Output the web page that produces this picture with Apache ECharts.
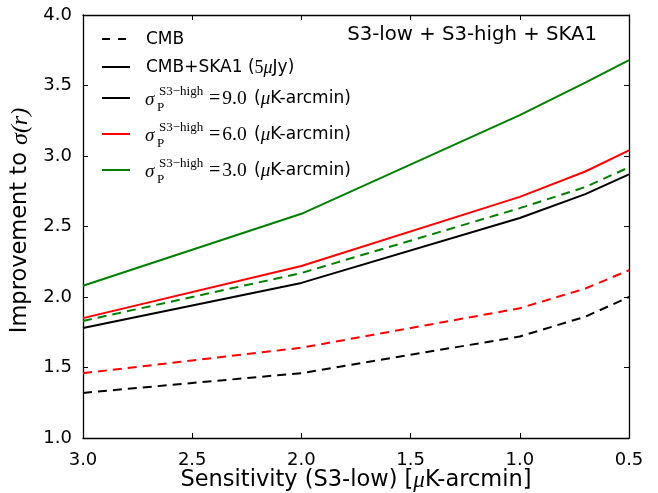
<!DOCTYPE html>
<html>
<head>
<meta charset="utf-8">
<title>Improvement to sigma(r)</title>
<script type="text/javascript" src="https://cdn.jsdelivr.net/npm/echarts@6/dist/echarts.min.js"></script>
<style>
html, body { margin: 0; padding: 0; background: #fff; }
#chart { width: 658px; height: 493px; }
</style>
</head>
<body>
<div id="chart"></div>
<script type="text/javascript">
    // S3-low sensitivity [uK-arcmin]
    var sens = [3.0, 2.0, 1.0, 0.7, 0.5];
    var yTicks = ['1.0', '1.5', '2.0', '2.5', '3.0', '3.5', '4.0'];

    // CMB only (dashed)
    var cmb9 = [1.32, 1.46, 1.72, 1.86, 2.00];
    var cmb6 = [1.46, 1.64, 1.92, 2.06, 2.19];
    var cmb3 = [1.83, 2.17, 2.63, 2.78, 2.92];
    // CMB + SKA1 (solid)
    var ska9 = [1.78, 2.10, 2.56, 2.73, 2.87];
    var ska6 = [1.85, 2.22, 2.71, 2.89, 3.04];
    var ska3 = [2.08, 2.59, 3.29, 3.52, 3.68];

    var sigmaHigh = ['9.0', '6.0', '3.0'];
    var colors = ['#000000', '#ff0000', '#008000'];

    function pairs(vals) {
        return sens.map(function (x, i) { return [x, vals[i]]; });
    }

    function mkLine(name, vals, color, dashed) {
        return {
            name: name,
            type: 'line',
            data: pairs(vals),
            showSymbol: false,
            symbol: 'none',
            silent: true,
            lineStyle: { color: color, width: 2, type: dashed ? [9, 6] : 'solid' },
            z: dashed ? 3 : 4
        };
    }

    var series = [
        mkLine('CMB 9.0', cmb9, colors[0], true),
        mkLine('CMB 6.0', cmb6, colors[1], true),
        mkLine('CMB 3.0', cmb3, colors[2], true),
        mkLine('CMB+SKA1 9.0', ska9, colors[0], false),
        mkLine('CMB+SKA1 6.0', ska6, colors[1], false),
        mkLine('CMB+SKA1 3.0', ska3, colors[2], false)
    ];

    // hand made legend (stacked sub/superscripts are not possible in the legend component)
    var serif = 'Liberation Serif';
    var sans = 'DejaVu Sans';
    var gfx = [];
    gfx.push({ type: 'line', shape: { x1: 102, y1: 39, x2: 130, y2: 39 },
        style: { stroke: '#000', lineWidth: 2, lineDash: [8, 8] } });
    gfx.push({ type: 'text', x: 146, y: 40,
        style: { text: 'CMB', font: '17px "DejaVu Sans"', fill: '#000', textVerticalAlign: 'middle' } });
    gfx.push({ type: 'line', shape: { x1: 102, y1: 67, x2: 130, y2: 67 },
        style: { stroke: '#000', lineWidth: 2 } });
    gfx.push({ type: 'text', x: 146, y: 68,
        style: {
            text: 'CMB+SKA1 ({n|5}{m|μ}Jy)', font: '17px "DejaVu Sans"', fill: '#000', textVerticalAlign: 'middle',
            rich: {
                n: { fontFamily: serif, fontSize: 18, fill: '#000' },
                m: { fontFamily: serif, fontStyle: 'italic', fontSize: 18, fill: '#000' }
            }
        } });
    var rowY = [98, 134, 170];
    sigmaHigh.forEach(function (s, i) {
        var y = rowY[i];
        gfx.push({ type: 'line', shape: { x1: 102, y1: y, x2: 130, y2: y },
            style: { stroke: colors[i], lineWidth: 2 } });
        gfx.push({ type: 'text', x: 145, y: y + 2,
            style: { text: 'σ', font: 'italic 19px "Liberation Serif"', fill: '#000', textVerticalAlign: 'middle' } });
        gfx.push({ type: 'text', x: 159, y: y - 6,
            style: { text: 'S3−high', font: '13px "Liberation Serif"', fill: '#000', textVerticalAlign: 'middle' } });
        gfx.push({ type: 'text', x: 157, y: y + 10,
            style: { text: 'P', font: '13px "Liberation Serif"', fill: '#000', textVerticalAlign: 'middle' } });
        gfx.push({ type: 'text', x: 209, y: y + 1,
            style: {
                text: '{q|=}{e|' + s + '} ({m|μ}K-arcmin)', font: '17px "DejaVu Sans"', fill: '#000', textVerticalAlign: 'middle',
                rich: {
                    q: { fontFamily: serif, fontSize: 20, fill: '#000', padding: [0, 2, 0, 0] },
                    e: { fontFamily: serif, fontSize: 19.5, fill: '#000', padding: [0, 2, 0, 0] },
                    m: { fontFamily: serif, fontStyle: 'italic', fontSize: 19, fill: '#000' }
                }
            } });
    });

    function xAx(pos, show) {
        return {
            type: 'value', position: pos, min: 0.5, max: 3.0, interval: 0.5, inverse: true,
            name: show ? 'Sensitivity (S3-low) [{m|μ}K-arcmin]' : '',
            nameLocation: 'middle', nameGap: 31, nameMoveOverlap: false,
            nameTextStyle: {
                fontFamily: sans, fontSize: 22.5, color: '#000',
                rich: { m: { fontFamily: serif, fontStyle: 'italic', fontSize: 23, color: '#000' } }
            },
            axisLine: { show: true, onZero: false, lineStyle: { color: '#000', width: 1.3 } },
            axisTick: { show: true, inside: true, length: 5, lineStyle: { color: '#000' } },
            axisLabel: { show: show, margin: 13, fontFamily: sans, fontSize: 18, color: '#000',
                formatter: function (v) { return v.toFixed(1); } },
            splitLine: { show: false }
        };
    }

    function yAx(pos, show) {
        return {
            type: 'value', position: pos, min: 1.0, max: 4.0, interval: 0.5,
            name: show ? 'Improvement to {i|σ(r)}' : '',
            nameLocation: 'middle', nameGap: 50,
            nameTextStyle: {
                fontFamily: sans, fontSize: 22.5, color: '#000', padding: [0, 0, 0, 12],
                rich: { i: { fontFamily: serif, fontStyle: 'italic', fontSize: 24, color: '#000' } }
            },
            axisLine: { show: true, onZero: false, lineStyle: { color: '#000', width: 1.3 } },
            axisTick: { show: true, inside: true, length: 5, lineStyle: { color: '#000' } },
            axisLabel: { show: show, margin: 11, fontFamily: sans, fontSize: 18, color: '#000',
                formatter: function (v) { return yTicks[Math.round((v - 1.0) / 0.5)]; } },
            splitLine: { show: false }
        };
    }

    var option = {
        backgroundColor: '#ffffff',
        animation: false,
        title: {
            text: 'S3-low + S3-high + SKA1',
            right: 61, top: 25, padding: 0,
            textStyle: { fontFamily: sans, fontSize: 19.7, fontWeight: 'normal', color: '#000' }
        },
        grid: { left: 83, right: 29, top: 15, bottom: 55, containLabel: false, outerBoundsMode: 'none' },
        xAxis: [xAx('bottom', true), xAx('top', false)],
        yAxis: [yAx('left', true), yAx('right', false)],
        graphic: gfx,
        series: series
    };

    var chart = echarts.init(document.getElementById('chart'));
    chart.setOption(option);
</script>
</body>
</html>
